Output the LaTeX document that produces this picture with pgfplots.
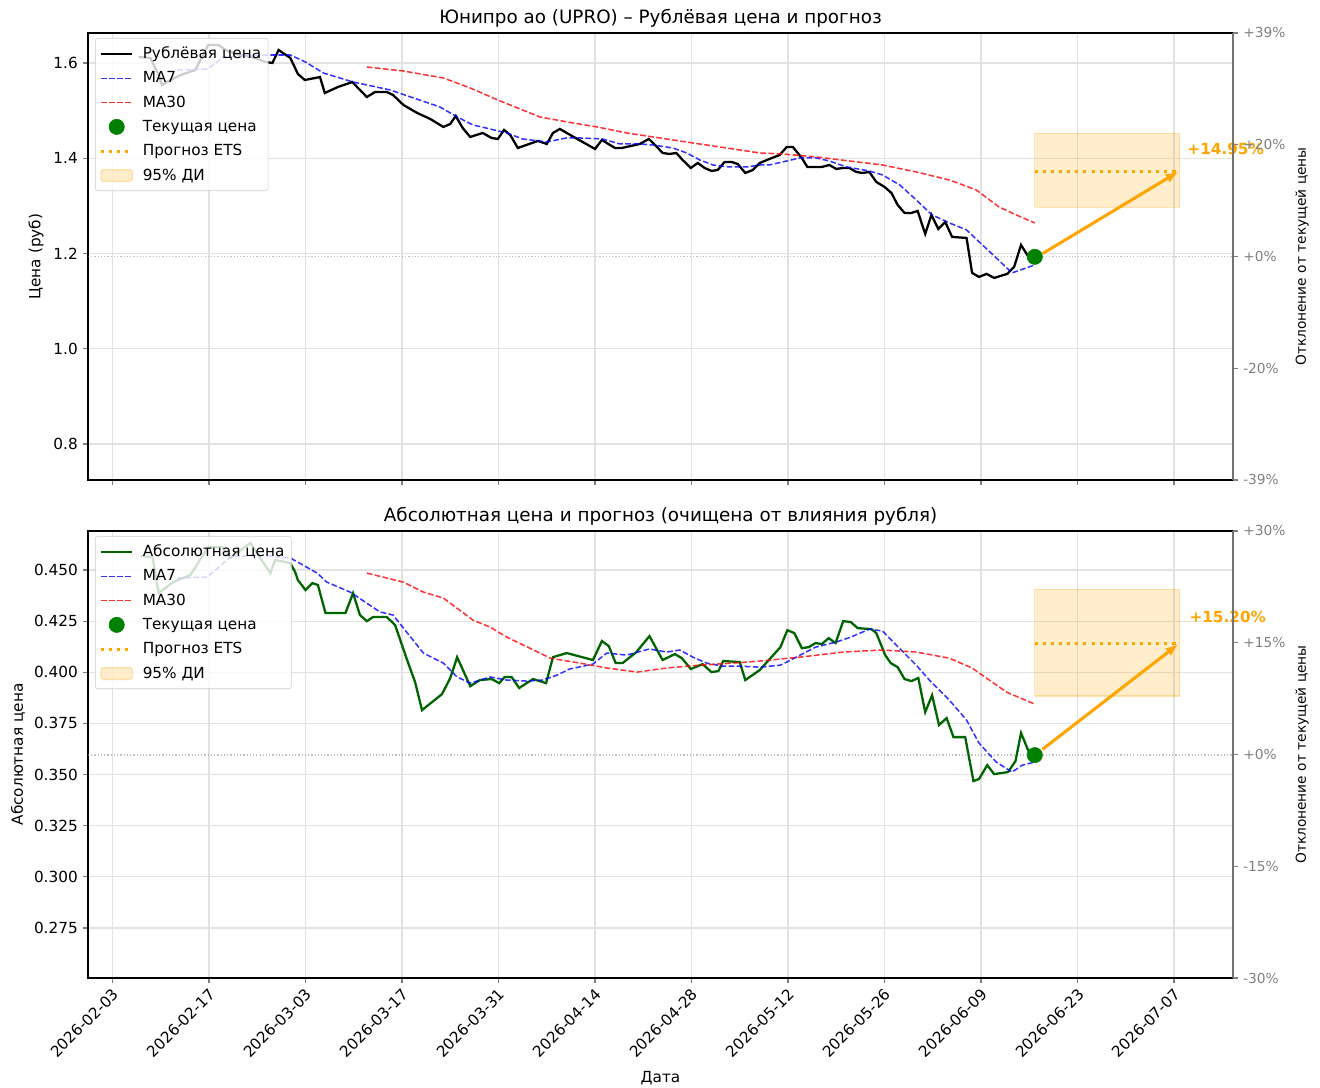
\documentclass[border=0pt]{standalone}
\usepackage{fontspec}
\setmainfont{DejaVu Sans}
\usepackage{pgfplots}
\pgfplotsset{compat=1.18}
\usetikzlibrary{arrows.meta}
\definecolor{mplorange}{HTML}{FFA500}
\definecolor{mpldarkgreen}{HTML}{006400}
\definecolor{mplgreen}{HTML}{008000}
\definecolor{gridgray}{HTML}{E2E2E2}
\newcommand{\fs}{\fontsize{11}{13.2}\selectfont}
\newcommand{\fsr}{\fontsize{9.9}{12}\selectfont}
\newcommand{\fst}{\fontsize{13.2}{15.8}\selectfont}
\pgfplotsset{
  geom/.style={scale only axis, width=824.4pt, height=321.84pt, anchor=south west,
    xmin=-3.55, xmax=162.55,
    tick align=outside, major tick length=3.85pt,
    every tick/.append style={line width=0.88pt},
    axis line style={line width=0.88pt},
    /pgf/number format/assume math mode=true,
    tick label style={font=\fs},
    label style={font=\fs},
  },
  base/.style={geom,
    xtick={0,14,28,42,56,70,84,98,112,126,140,154},
    tick pos=left,
    grid=major, grid style={color=gridgray, line width=0.88pt},
    clip=false,
    title style={font=\fst, at={(axis description cs:0.5,1)}, anchor=base, yshift=0.8pt},
    legend cell align=left,
    legend style={at={(0.0061,0.9888)}, anchor=north west, draw=black!20, fill=white, fill opacity=0.8, text opacity=1,
      rounded corners=2pt, font=\fs, row sep=4.9pt, inner xsep=3pt, inner ysep=4.6pt,
      nodes={inner xsep=2pt, inner ysep=1.5pt}},
  },
  rightax/.style={geom, axis x line=none, axis y line*=right,
    yticklabel style={text=gray, font=\fsr}, ytick style={gray},
    y axis line style={black!55},
    ylabel style={at={(axis description cs:1.0603,0.5)}, anchor=center, font=\fsr},
  },
  legline/.style={legend image code/.code={\draw[##1] (0pt,0pt) -- (22.7pt,0pt); \path (0pt,0pt) (27pt,0pt);}},
  legmark/.style={legend image code/.code={\draw[mark repeat=2,mark phase=2,##1] plot coordinates {(0pt,0pt) (11.35pt,0pt) (22.7pt,0pt)}; \path (27pt,0pt);}},
  legarea/.style={legend image code/.code={\path[##1] (0pt,-4.2pt) rectangle (22.7pt,4.2pt); \path (27pt,0pt);}},
  ma7/.style={blue, opacity=0.8, line width=1.1pt, dash pattern=on 4.07pt off 1.76pt, legline},
  ma30/.style={red, opacity=0.8, line width=1.1pt, dash pattern=on 4.07pt off 1.76pt, legline},
  cur/.style={only marks, mark=*, mark size=5.5pt, mplgreen, fill opacity=1, draw opacity=1, legmark},
  ets/.style={mplorange, line width=2.2pt, dash pattern=on 2.2pt off 3.63pt, legline},
  ci/.style={fill=mplorange, fill opacity=0.2, draw=mplorange, draw opacity=0.3, line width=0.88pt, legarea},
  curline/.style={gray, opacity=0.5, line width=0.88pt, dash pattern=on 0.88pt off 1.45pt},
  arr/.style={mplorange, line width=2.2pt, -{Latex[length=9pt,width=7pt]}},
}
\begin{document}
\begin{tikzpicture}
\useasboundingbox (-63.36pt,-79.2pt) rectangle (887.04pt,704.16pt);
% ================= TOP PANEL =================
\begin{axis}[base, at={(0pt,358.56pt)},
  ymin=0.7245, ymax=1.663, ytick={0.8,1.0,1.2,1.4,1.6},
  yticklabel style={/pgf/number format/.cd, fixed, fixed zerofill, precision=1},
  xticklabels={},
  title={Юнипро ао (UPRO) – Рублёвая цена и прогноз},
  ylabel={Цена (руб)},
  ylabel style={at={(axis description cs:-0.0454,0.5)}, anchor=center}]
\addplot[ci, forget plot] coordinates {(133.8,1.2972) (154.8,1.2972) (154.8,1.4524) (133.8,1.4524) (133.8,1.2972)};
\addplot[curline, forget plot] coordinates {(-3.55,1.193) (162.55,1.193)};
\addplot[black, line width=1.65pt, forget plot] coordinates {
(3.8,1.6126) (5.5,1.6105) (6.7,1.5748) (7.2,1.5538) (8.4,1.5643) (9.9,1.5748) (12.0,1.5853) (13.9,1.6378) (15.4,1.6378) (16.4,1.6273) (18.5,1.6168) (20.7,1.6105) (22.2,1.6021) (23.2,1.6) (24.1,1.6273) (25.8,1.6105) (26.9,1.5769) (27.9,1.5643) (29.4,1.5685) (30.1,1.5706) (30.8,1.5370) (32.7,1.5496) (34.8,1.5601) (35.9,1.5433) (36.9,1.5286) (38.1,1.5391) (39.8,1.5391) (40.7,1.5328) (42.2,1.5119) (44.2,1.4951) (46.1,1.4825) (48.0,1.4657) (49.0,1.4720) (49.8,1.4888) (50.8,1.4636) (51.9,1.4447) (53.7,1.4531) (55.0,1.4426) (55.9,1.4405) (56.8,1.4594) (57.7,1.4489) (58.8,1.4216) (61.7,1.4363) (63.0,1.4300) (63.9,1.4531) (64.9,1.4615) (66.4,1.4489) (70.0,1.4195) (71.0,1.4384) (71.7,1.4321) (72.9,1.4216) (73.9,1.4216) (76.5,1.4300) (77.8,1.4405) (79.0,1.4237) (79.8,1.4111) (80.8,1.4090) (81.8,1.4111) (82.7,1.3964) (83.9,1.3796) (84.9,1.3901) (85.9,1.3796) (86.9,1.3733) (87.8,1.3754) (88.8,1.3922) (89.8,1.3922) (90.7,1.3880) (91.8,1.3691) (92.9,1.3754) (93.9,1.3901) (95.3,1.3985) (96.8,1.4069) (97.8,1.4237) (98.7,1.4237) (100.0,1.4006) (100.8,1.3817) (101.8,1.3817) (102.9,1.3817) (104.0,1.3859) (105.0,1.3775) (105.9,1.3796) (106.9,1.3796) (107.9,1.3712) (108.8,1.3691) (109.8,1.3712) (110.8,1.3503) (112.0,1.3398) (113.0,1.3272) (113.9,1.3020) (114.9,1.2852) (115.9,1.2852) (116.8,1.2894) (117.9,1.2411) (118.8,1.2810) (119.8,1.2516) (120.8,1.2663) (121.8,1.2348) (123.9,1.2327) (124.7,1.1593) (125.7,1.1509) (126.8,1.1572) (127.9,1.1488) (129.8,1.1572) (130.8,1.1719) (131.8,1.2180) (132.7,1.1971) (133.8,1.1929)};
\addplot[ma7, forget plot] coordinates {
(9.4,1.5853) (13.8,1.5874) (16.1,1.6126) (22.9,1.6168) (25.8,1.6168) (28.0,1.602) (30.6,1.579) (34.9,1.5601) (40.3,1.5433) (47.5,1.5077) (50.0,1.4867) (52.3,1.470) (57.2,1.4531) (59.5,1.4405) (63.0,1.4342) (65.9,1.4426) (67.8,1.4426) (71.1,1.4405) (73.6,1.430) (76.5,1.430) (78.4,1.4279) (81.3,1.4216) (83.3,1.4111) (85.2,1.3964) (87.1,1.3859) (89.5,1.3817) (92.0,1.3817) (93.9,1.3859) (95.3,1.3859) (97.2,1.3922) (99.7,1.4006) (102.1,1.4006) (104.0,1.3943) (106.5,1.3817) (109.8,1.3733) (111.7,1.3650) (114.2,1.3440) (116.6,1.3125) (118.9,1.2810) (121.4,1.2642) (123.9,1.2495) (126.2,1.2180) (128.2,1.1908) (130.5,1.1593) (133.8,1.1761)};
\addplot[ma30, forget plot] coordinates {
(36.9,1.5916) (42.2,1.5832) (48.0,1.5685) (51.9,1.5475) (55.9,1.5223) (62.0,1.4867) (66.8,1.4741) (70.3,1.4657) (74.6,1.4531) (79.4,1.4426) (84.2,1.4321) (89.1,1.4216) (93.9,1.4111) (97.2,1.4090) (102.1,1.4027) (106.9,1.3943) (111.7,1.3859) (116.6,1.3712) (121.4,1.3545) (125.3,1.3335) (128.6,1.2978) (131.1,1.2810) (133.8,1.2642)};
\addplot[ets, forget plot] coordinates {(133.8,1.3727) (154.8,1.3727)};
\addplot[arr, forget plot] coordinates {(134.9,1.1996) (154.6,1.3715)};
\addplot[cur, forget plot] coordinates {(133.8,1.193)};
\addlegendimage{black, line width=1.65pt, legline}\addlegendentry{Рублёвая цена}
\addlegendimage{ma7}\addlegendentry{MA7}
\addlegendimage{ma30}\addlegendentry{MA30}
\addlegendimage{cur}\addlegendentry{Текущая цена}
\addlegendimage{ets}\addlegendentry{Прогноз ETS}
\addlegendimage{ci}\addlegendentry{95\% ДИ}
\node[anchor=west, text=mplorange, font=\fs\bfseries, inner sep=0pt] at (axis cs:155.9,1.4195) {+14.95\%};
\end{axis}
\begin{axis}[rightax, at={(0pt,358.56pt)},
  ymin=0.7245, ymax=1.663,
  ytick={0.7245,0.95913,1.19375,1.42838,1.663},
  yticklabels={-39\%,-20\%,+0\%,+20\%,+39\%},
  ylabel={Отклонение от текущей цены}]
\end{axis}
% ================= BOTTOM PANEL =================
\begin{axis}[base, at={(0pt,0pt)},
  ymin=0.2505, ymax=0.4691, ytick={0.275,0.3,0.325,0.35,0.375,0.4,0.425,0.45},
  yticklabel style={/pgf/number format/.cd, fixed, fixed zerofill, precision=3},
  xticklabels={2026-02-03,2026-02-17,2026-03-03,2026-03-17,2026-03-31,2026-04-14,2026-04-28,2026-05-12,2026-05-26,2026-06-09,2026-06-23,2026-07-07},
  xticklabel style={rotate=45, anchor=east, xshift=1pt, yshift=-6pt},
  title={Абсолютная цена и прогноз (очищена от влияния рубля)},
  xlabel={Дата},
  xlabel style={at={(axis description cs:0.5,0)}, anchor=base, yshift=-75.6pt},
  ylabel={Абсолютная цена},
  ylabel style={at={(axis description cs:-0.0611,0.5)}, anchor=center}]
\addplot[ci, forget plot] coordinates {(133.8,0.3884) (154.8,0.3884) (154.8,0.4406) (133.8,0.4406) (133.8,0.3884)};
\addplot[curline, forget plot] coordinates {(-3.55,0.3595) (162.55,0.3595)};
\addplot[mpldarkgreen, line width=1.65pt, forget plot] coordinates {
(4.1,0.4568) (5.8,0.4564) (6.7,0.4387) (8.8,0.4441) (11.3,0.4476) (13.9,0.4613) (15.9,0.4613) (17.1,0.4559) (20.0,0.4632) (22.9,0.4485) (23.6,0.4549) (25.8,0.4534) (26.5,0.4490) (26.9,0.4451) (28.0,0.4402) (29.0,0.4436) (29.8,0.4427) (30.9,0.4290) (33.8,0.4290) (34.9,0.4387) (35.9,0.4280) (36.9,0.4250) (37.8,0.4270) (39.8,0.4270) (41.0,0.4231) (42.0,0.4133) (42.9,0.4045) (43.9,0.3952) (44.9,0.3815) (47.8,0.3893) (49.0,0.3972) (50.0,0.4074) (51.9,0.3932) (53.3,0.3962) (55.0,0.3967) (56.1,0.3947) (56.9,0.3977) (57.9,0.3977) (59.0,0.3923) (61.0,0.3967) (62.9,0.3947) (63.9,0.4074) (65.9,0.4094) (69.7,0.4060) (71.0,0.4153) (72.0,0.4128) (73.0,0.4045) (74.0,0.4045) (76.0,0.4099) (77.9,0.4177) (79.8,0.4060) (81.6,0.4089) (82.6,0.4069) (83.9,0.4016) (85.6,0.4040) (86.9,0.4001) (87.9,0.4006) (88.6,0.4055) (91.0,0.4050) (91.8,0.3962) (93.9,0.4011) (96.9,0.4123) (97.9,0.4206) (98.9,0.4192) (100.0,0.4118) (101.0,0.4123) (102.0,0.4143) (102.9,0.4138) (103.9,0.4167) (104.9,0.4143) (106.0,0.4250) (107.1,0.4246) (108.1,0.4216) (110.1,0.4211) (110.8,0.4192) (112.1,0.4084) (112.9,0.4045) (113.9,0.4025) (114.9,0.3967) (115.9,0.3957) (116.9,0.3972) (117.9,0.3805) (118.9,0.3888) (119.9,0.3742) (121.0,0.3776) (122.0,0.3683) (123.7,0.3683) (124.9,0.3468) (125.7,0.3478) (126.9,0.3546) (127.9,0.3502) (129.9,0.3512) (131.0,0.3566) (131.8,0.3703) (133.0,0.3605) (133.8,0.3595)};
\addplot[ma7, forget plot] coordinates {
(9.4,0.4461) (13.8,0.4466) (17.1,0.4564) (21.4,0.4573) (25.8,0.4559) (29.7,0.4485) (31.1,0.4441) (34.5,0.4392) (38.8,0.4295) (40.7,0.4280) (45.1,0.4094) (48.0,0.4045) (50.0,0.3977) (51.9,0.3947) (54.8,0.3977) (57.2,0.3962) (60.1,0.3957) (62.4,0.3962) (64.5,0.3986) (66.3,0.4016) (69.7,0.4040) (71.7,0.4094) (74.6,0.4084) (77.9,0.4114) (80.4,0.4099) (82.3,0.4109) (84.2,0.4074) (86.2,0.4045) (88.5,0.4030) (91.0,0.4030) (93.9,0.4025) (96.9,0.4035) (98.4,0.4060) (102.0,0.4123) (105.0,0.4148) (107.1,0.4172) (109.8,0.4211) (111.7,0.4202) (113.7,0.4133) (116.6,0.4035) (118.5,0.3962) (121.4,0.3864) (123.9,0.3766) (125.7,0.3654) (128.2,0.3561) (130.5,0.3512) (132.0,0.3546) (133.8,0.3561)};
\addplot[ma30, forget plot] coordinates {
(36.9,0.4485) (42.2,0.4441) (45.1,0.4392) (48.0,0.4363) (52.3,0.4255) (54.8,0.4221) (57.2,0.4172) (62.0,0.4094) (63.5,0.4069) (67.8,0.4045) (71.7,0.4021) (76.1,0.4001) (80.4,0.4021) (85.2,0.4035) (90.0,0.4045) (93.9,0.4055) (99.7,0.4074) (106.0,0.4099) (111.7,0.4109) (116.6,0.4099) (121.4,0.4069) (124.7,0.4021) (127.2,0.3962) (129.7,0.3903) (133.8,0.3844)};
\addplot[ets, forget plot] coordinates {(133.8,0.4142) (154.8,0.4142)};
\addplot[arr, forget plot] coordinates {(134.9,0.3623) (154.6,0.4137)};
\addplot[cur, forget plot] coordinates {(133.8,0.3595)};
\addlegendimage{mpldarkgreen, line width=1.65pt, legline}\addlegendentry{Абсолютная цена}
\addlegendimage{ma7}\addlegendentry{MA7}
\addlegendimage{ma30}\addlegendentry{MA30}
\addlegendimage{cur}\addlegendentry{Текущая цена}
\addlegendimage{ets}\addlegendentry{Прогноз ETS}
\addlegendimage{ci}\addlegendentry{95\% ДИ}
\node[anchor=west, text=mplorange, font=\fs\bfseries, inner sep=0pt] at (axis cs:156.2,0.4270) {+15.20\%};
\end{axis}
\begin{axis}[rightax, at={(0pt,0pt)},
  ymin=0.2505, ymax=0.4691,
  ytick={0.2505,0.30515,0.3598,0.41445,0.4691},
  yticklabels={-30\%,-15\%,+0\%,+15\%,+30\%},
  ylabel={Отклонение от текущей цены}]
\end{axis}
\end{tikzpicture}
\end{document}
